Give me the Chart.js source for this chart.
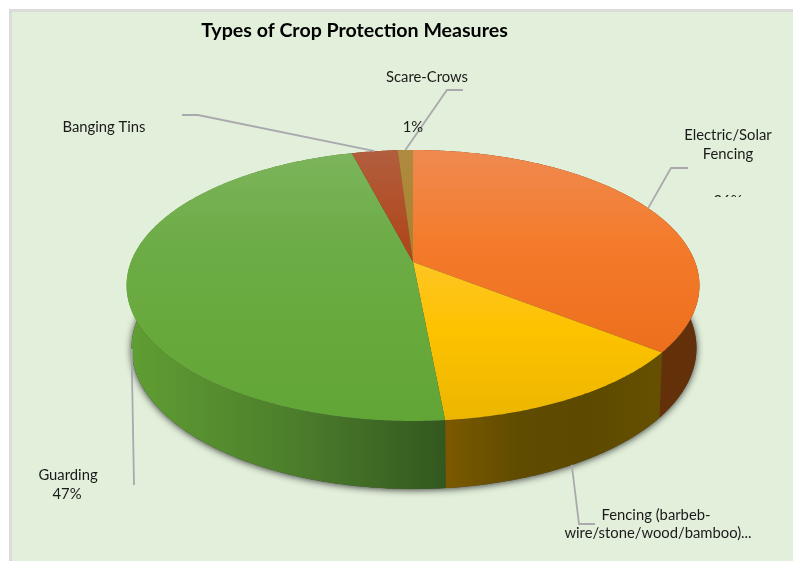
<!DOCTYPE html>
<html>
<head>
<meta charset="utf-8">
<title>Types of Crop Protection Measures</title>
<style>
  html, body { margin: 0; background: #fff; }
  #cropChart { display: block; }
</style>
</head>
<body>
<canvas id="cropChart" width="793" height="561"></canvas>
<script src="https://cdn.jsdelivr.net/npm/chart.js@4"></script>
<script>
const categories = ['Electric/Solar Fencing', 'Fencing (barbeb-wire/stone/wood/bamboo)', 'Guarding', 'Banging Tins', 'Scare-Crows'];
const shares = [36, 13, 47, 3, 1];

// flat colours per slice, the gradients below are the shaded versions
const sliceColors = ['#f47a2a', '#fdc200', '#69aa3f', '#b23d04', '#a07f00'];
const topStops = [
  ['#ef8a50', '#f47b2c', '#ee711f', '#e5671b'],
  ['#ffd040', '#ffc62e', '#fdc200', '#ecb600'],
  ['#7cb55c', '#6dac47', '#68a93c', '#62a537'],
  ['#b25e3e', '#b0481e', '#b23d04', '#b23d04'],
  ['#b08a40', '#a88430', '#a07f00', '#a07f00']
];
const wallStops = [
  ['#7d3408', '#6a3208', '#62300a'],
  ['#7c5900', '#604c00', '#5c4a00', '#665000'],
  ['#5f9e33', '#4d7f2b', '#33581f'],
  ['#7a2a02', '#7a2a02', '#7a2a02'],
  ['#6d5600', '#6d5600', '#6d5600']
];

// the disc is tilted with a simple perspective, so the apex sits above the centre of the rim
const APEX = { x: 413, y: 262 };
const SPREAD = { x: 282.1, y: 131.4 };
const PERSP = 0.1734;
const TWIST = 1.8 * Math.PI / 180;
const TOP_RIM = { cx: 413.5, cy: 285.5, rx: 286.5, ry: 135.5 };
const LOW_RIM = { cx: 414.5, cy: 348, rx: 282.5, ry: 141 };

function topPoint(angle) {
  // small twist that fades out towards 12 o'clock
  const sweep = angle + Math.PI / 2;
  const a = angle - TWIST * Math.sin(sweep / 2);
  const u = Math.cos(a);
  const v = -Math.sin(a);
  const w = 1 + PERSP * v;
  return { x: APEX.x + SPREAD.x * u / w, y: APEX.y - SPREAD.y * v / w };
}

function lowPoint(angle) {
  const p = topPoint(angle);
  return {
    x: LOW_RIM.cx + (p.x - TOP_RIM.cx) * LOW_RIM.rx / TOP_RIM.rx,
    y: LOW_RIM.cy + (p.y - TOP_RIM.cy) * LOW_RIM.ry / TOP_RIM.ry
  };
}

function rimAngles(start, end) {
  const steps = Math.max(2, Math.ceil((end - start) / 0.01));
  const out = [];
  for (let i = 0; i <= steps; i++) out.push(start + (end - start) * i / steps);
  return out;
}

function gradient(ctx, x0, y0, x1, y1, colors) {
  const g = ctx.createLinearGradient(x0, y0, x1, y1);
  colors.forEach((c, i) => g.addColorStop(i / (colors.length - 1), c));
  return g;
}

const panel = {
  id: 'panel',
  beforeDraw(chart) {
    const { ctx } = chart;
    ctx.save();
    ctx.fillStyle = '#e2efda';
    ctx.fillRect(10, 10, 783, 551);
    ctx.strokeStyle = '#dcdcdc';
    ctx.lineWidth = 3;
    ctx.beginPath();
    ctx.moveTo(10.5, 561);
    ctx.lineTo(10.5, 10.5);
    ctx.lineTo(793, 10.5);
    ctx.stroke();
    ctx.restore();
  }
};

const tiltedPie = {
  id: 'tiltedPie',
  beforeDatasetsDraw(chart) {
    const { ctx } = chart;
    const arcs = chart.getDatasetMeta(0).data;
    ctx.save();

    // soft shadow under the lower rim
    ctx.save();
    ctx.shadowColor = 'rgba(30,30,30,0.85)';
    ctx.shadowBlur = 7;
    ctx.shadowOffsetY = 1;
    ctx.fillStyle = '#444';
    ctx.beginPath();
    rimAngles(0, Math.PI * 2).forEach((a) => {
      const p = lowPoint(a);
      ctx.lineTo(p.x, p.y);
    });
    ctx.closePath();
    ctx.fill();
    ctx.restore();

    // side walls
    arcs.forEach((arc, i) => {
      const angles = rimAngles(arc.startAngle, arc.endAngle);
      const xs = angles.map((a) => lowPoint(a).x);
      ctx.beginPath();
      angles.forEach((a) => {
        const p = topPoint(a);
        ctx.lineTo(p.x, p.y);
      });
      angles.slice().reverse().forEach((a) => {
        const p = lowPoint(a);
        ctx.lineTo(p.x, p.y);
      });
      ctx.closePath();
      ctx.fillStyle = gradient(ctx, Math.min(...xs), 0, Math.max(...xs), 0, wallStops[i]);
      ctx.fill();
    });

    // top face
    arcs.forEach((arc, i) => {
      ctx.beginPath();
      ctx.moveTo(APEX.x, APEX.y);
      rimAngles(arc.startAngle, arc.endAngle).forEach((a) => {
        const p = topPoint(a);
        ctx.lineTo(p.x, p.y);
      });
      ctx.closePath();
      ctx.fillStyle = gradient(ctx, 0, 150, 0, 421, topStops[i]);
      ctx.fill();
    });

    ctx.restore();
    return false;
  }
};

// leader lines start on the rim at the middle of their slice
const leaders = [
  { slice: 0, rim: 'top', bend: [[671, 168], [688, 168]] },
  { slice: 1, rim: 'low', bend: [[579, 524], [595, 524]] },
  { slice: 2, rim: 'low', bend: [[134, 485]] },
  { slice: 3, rim: 'top', bend: [[198, 115], [182, 115]] },
  { slice: 4, rim: 'top', bend: [[447, 90], [463, 90]] }
];

const labels = [
  { text: 'Scare-Crows', x: 427, y: 77 },
  { text: '1%', x: 413, y: 127 },
  { text: 'Banging Tins', x: 104, y: 127 },
  { text: 'Electric/Solar', x: 728, y: 135 },
  { text: 'Fencing', x: 728, y: 154 },
  { text: 'Guarding', x: 68, y: 475 },
  { text: '47%', x: 67, y: 494 },
  { text: 'Fencing (barbeb-', x: 656, y: 515 },
  { text: 'wire/stone/wood/bamboo)...', x: 658, y: 533 }
];

const annotations = {
  id: 'annotations',
  afterDraw(chart) {
    const { ctx } = chart;
    const arcs = chart.getDatasetMeta(0).data;
    ctx.save();

    ctx.strokeStyle = '#a9a9ae';
    ctx.lineWidth = 1.8;
    leaders.forEach((l) => {
      const arc = arcs[l.slice];
      const mid = (arc.startAngle + arc.endAngle) / 2;
      const from = l.rim === 'top' ? topPoint(mid) : lowPoint(mid);
      ctx.beginPath();
      ctx.moveTo(from.x, from.y);
      l.bend.forEach(([x, y]) => ctx.lineTo(x, y));
      ctx.stroke();
    });

    ctx.fillStyle = '#1a1a1a';
    ctx.textAlign = 'center';
    ctx.textBaseline = 'middle';
    ctx.font = '14.8px Lato, "Open Sans", sans-serif';
    labels.forEach((l) => ctx.fillText(l.text, l.x, l.y));

    // this value label is cut off by its text box
    ctx.save();
    ctx.beginPath();
    ctx.rect(700, 170, 60, 27);
    ctx.clip();
    ctx.fillText('36%', 728, 201);
    ctx.restore();

    ctx.fillStyle = '#000';
    ctx.font = 'bold 19.6px Lato, "Open Sans", sans-serif';
    ctx.fillText('Types of Crop Protection Measures', 354.5, 31);
    ctx.restore();
  }
};

new Chart(document.querySelector('#cropChart'), {
  type: 'pie',
  data: {
    labels: categories,
    datasets: [{ data: shares, backgroundColor: sliceColors, borderWidth: 0 }]
  },
  options: {
    responsive: false,
    animation: false,
    plugins: {
      legend: { display: false },
      tooltip: { enabled: false }
    }
  },
  plugins: [panel, tiltedPie, annotations]
});
</script>
</body>
</html>
